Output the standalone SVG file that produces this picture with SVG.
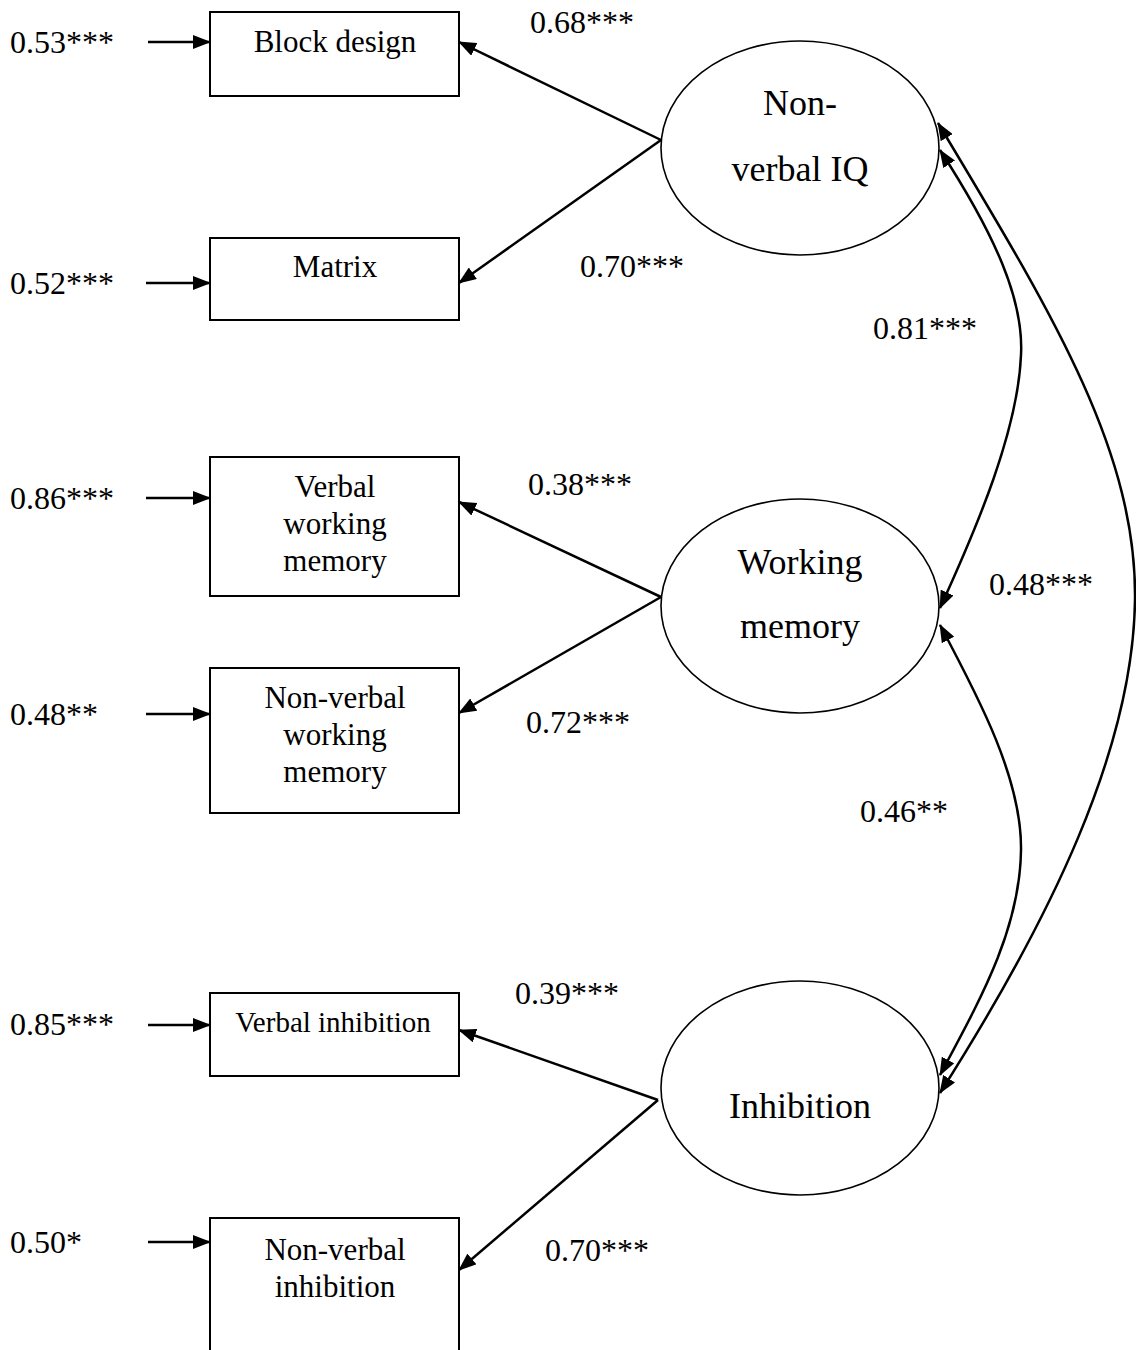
<svg xmlns="http://www.w3.org/2000/svg" width="1136" height="1350" viewBox="0 0 1136 1350">
  <style>
    .box { fill: #fff; stroke: #000; stroke-width: 2; }
    .latent { fill: #fff; stroke: #000; stroke-width: 1.6; }
    .t { font-family: "Liberation Serif", "Times New Roman", serif; fill: #000; }
    .obs { font-size: 31px; text-anchor: middle; }
    .obs-s { font-size: 29px; text-anchor: middle; }
    .lat { font-size: 36px; text-anchor: middle; }
    .coef { font-size: 32px; }
    .edge { fill: none; stroke: #000; stroke-width: 2.5; }
    .one { marker-end: url(#head); }
    .two { marker-start: url(#head); marker-end: url(#head); }
  </style>
  <defs>
    <marker id="head" markerUnits="userSpaceOnUse" viewBox="0 0 18 14" markerWidth="18" markerHeight="14" refX="17" refY="7" orient="auto-start-reverse">
      <path d="M0,0 L18,7 L0,14 z" fill="#000"/>
    </marker>
  </defs>

  <rect width="1136" height="1350" fill="#fff"/>

  <!-- connectors: residual arrows, loadings and correlations -->
  <g id="connectors">
    <path class="edge one" d="M148,42 H210"/>
    <path class="edge one" d="M146,283 H210"/>
    <path class="edge one" d="M146,498 H210"/>
    <path class="edge one" d="M146,714 H210"/>
    <path class="edge one" d="M148,1025 H210"/>
    <path class="edge one" d="M148,1242 H210"/>

    <path class="edge one" d="M661,140 L459,42"/>
    <path class="edge one" d="M661,140 L459,283"/>
    <path class="edge one" d="M661,597 L459,502"/>
    <path class="edge one" d="M661,597 L459,713"/>
    <path class="edge one" d="M658,1100 L459,1030"/>
    <path class="edge one" d="M658,1100 L459,1270"/>

    <path class="edge two" d="M940,150 C995,235 1024,300 1021,355 C1018,430 978,525 940,608"/>
    <path class="edge two" d="M940,625 C980,700 1022,780 1021,850 C1020,930 980,1000 940,1075"/>
    <path class="edge two" d="M938,123 C1050,310 1137,450 1135,600 C1133,750 1050,920 940,1093"/>
  </g>

  <!-- observed indicators -->
  <g id="block-design">
    <rect class="box" x="210" y="12" width="249" height="84"/>
    <text class="t obs" x="335" y="52">Block design</text>
  </g>
  <g id="matrix">
    <rect class="box" x="210" y="238" width="249" height="82"/>
    <text class="t obs" x="335" y="277">Matrix</text>
  </g>
  <g id="verbal-wm">
    <rect class="box" x="210" y="457" width="249" height="139"/>
    <text class="t obs" x="335" y="497">Verbal</text>
    <text class="t obs" x="335" y="534">working</text>
    <text class="t obs" x="335" y="571">memory</text>
  </g>
  <g id="nonverbal-wm">
    <rect class="box" x="210" y="668" width="249" height="145"/>
    <text class="t obs" x="335" y="708">Non-verbal</text>
    <text class="t obs" x="335" y="745">working</text>
    <text class="t obs" x="335" y="782">memory</text>
  </g>
  <g id="verbal-inhibition">
    <rect class="box" x="210" y="993" width="249" height="83"/>
    <text class="t obs-s" x="333" y="1032">Verbal inhibition</text>
  </g>
  <g id="nonverbal-inhibition">
    <rect class="box" x="210" y="1218" width="249" height="145"/>
    <text class="t obs" x="335" y="1260">Non-verbal</text>
    <text class="t obs" x="335" y="1297">inhibition</text>
  </g>

  <!-- latent factors -->
  <g id="nonverbal-iq">
    <ellipse class="latent" cx="800" cy="148" rx="139" ry="107"/>
    <text class="t lat" x="800" y="115">Non-</text>
    <text class="t lat" x="800" y="181">verbal IQ</text>
  </g>
  <g id="working-memory">
    <ellipse class="latent" cx="800" cy="606" rx="139" ry="107"/>
    <text class="t lat" x="800" y="574">Working</text>
    <text class="t lat" x="800" y="638">memory</text>
  </g>
  <g id="inhibition">
    <ellipse class="latent" cx="800" cy="1088" rx="139" ry="107"/>
    <text class="t lat" x="800" y="1118">Inhibition</text>
  </g>

  <!-- coefficients -->
  <g id="labels">
    <text class="t coef" x="10" y="53">0.53***</text>
    <text class="t coef" x="10" y="294">0.52***</text>
    <text class="t coef" x="10" y="509">0.86***</text>
    <text class="t coef" x="10" y="725">0.48**</text>
    <text class="t coef" x="10" y="1035">0.85***</text>
    <text class="t coef" x="10" y="1253">0.50*</text>

    <text class="t coef" x="530" y="33">0.68***</text>
    <text class="t coef" x="580" y="277">0.70***</text>
    <text class="t coef" x="528" y="495">0.38***</text>
    <text class="t coef" x="526" y="733">0.72***</text>
    <text class="t coef" x="515" y="1004">0.39***</text>
    <text class="t coef" x="545" y="1261">0.70***</text>

    <text class="t coef" x="873" y="339">0.81***</text>
    <text class="t coef" x="989" y="595">0.48***</text>
    <text class="t coef" x="860" y="822">0.46**</text>
  </g>
</svg>
